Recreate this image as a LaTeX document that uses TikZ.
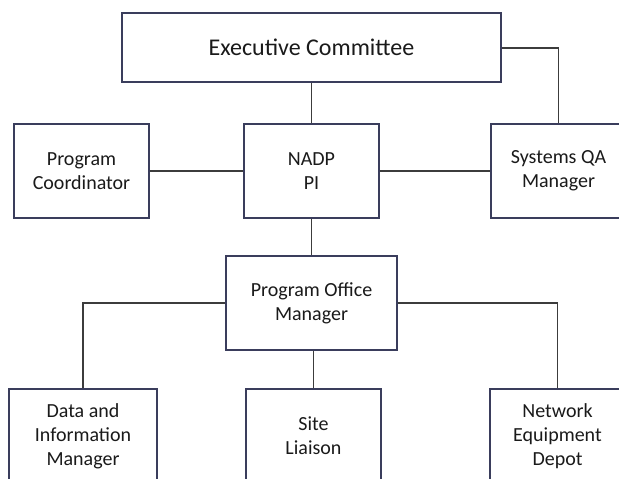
\documentclass[tikz,border=0pt]{standalone}
\usepackage{fontspec}
\setmainfont{Carlito}
\definecolor{boxline}{HTML}{3A3D5C}
\definecolor{wire}{HTML}{3C3C3C}
\definecolor{ink}{HTML}{1A1A1A}
\begin{document}
\begin{tikzpicture}[x=1pt,y=-1pt,
  unit/.style={draw=boxline, line width=1.3pt, fill=white, text=ink,
    minimum width=135pt, minimum height=94pt, align=center, inner sep=0pt,
    font=\fontsize{20}{24}\selectfont},
  link/.style={draw=wire, line width=1.3pt}]
\useasboundingbox (0,0) rectangle (619,479);
\clip (0,0) rectangle (619,479);
% boxes
\node[unit, minimum width=379pt, minimum height=69pt,
  font=\fontsize{24}{28}\selectfont] (exec) at (311.5,47.5) {Executive Committee};
\node[unit] (coord) at (81.5,171) {Program\\Coordinator};
\node[unit] (pi) at (311.5,171) {NADP\\PI};
\node[unit] (qa) at (558.5,171) {Systems QA\\Manager};
\node[unit, minimum width=171pt] (pom) at (311.5,303) {Program Office\\Manager};
\node[unit, minimum width=148pt] (data) at (83,436) {Data and\\Information\\Manager};
\node[unit] (site) at (313.5,436) {Site\\Liaison};
\node[unit] (net) at (557.5,436) {Network\\Equipment\\Depot};
% connectors
\draw[link] (exec.south) -- (pi.north);
\draw[link] (exec.east |- 0,48) -| (qa.north);
\draw[link] (coord.east) -- (pi.west);
\draw[link] (pi.east) -- (qa.west);
\draw[link] (pi.south) -- (pom.north);
\draw[link] (pom.west) -| (data.north);
\draw[link] (pom.east) -| (net.north);
\draw[link] (pom.south -| site.north) -- (site.north);
\end{tikzpicture}
\end{document}
